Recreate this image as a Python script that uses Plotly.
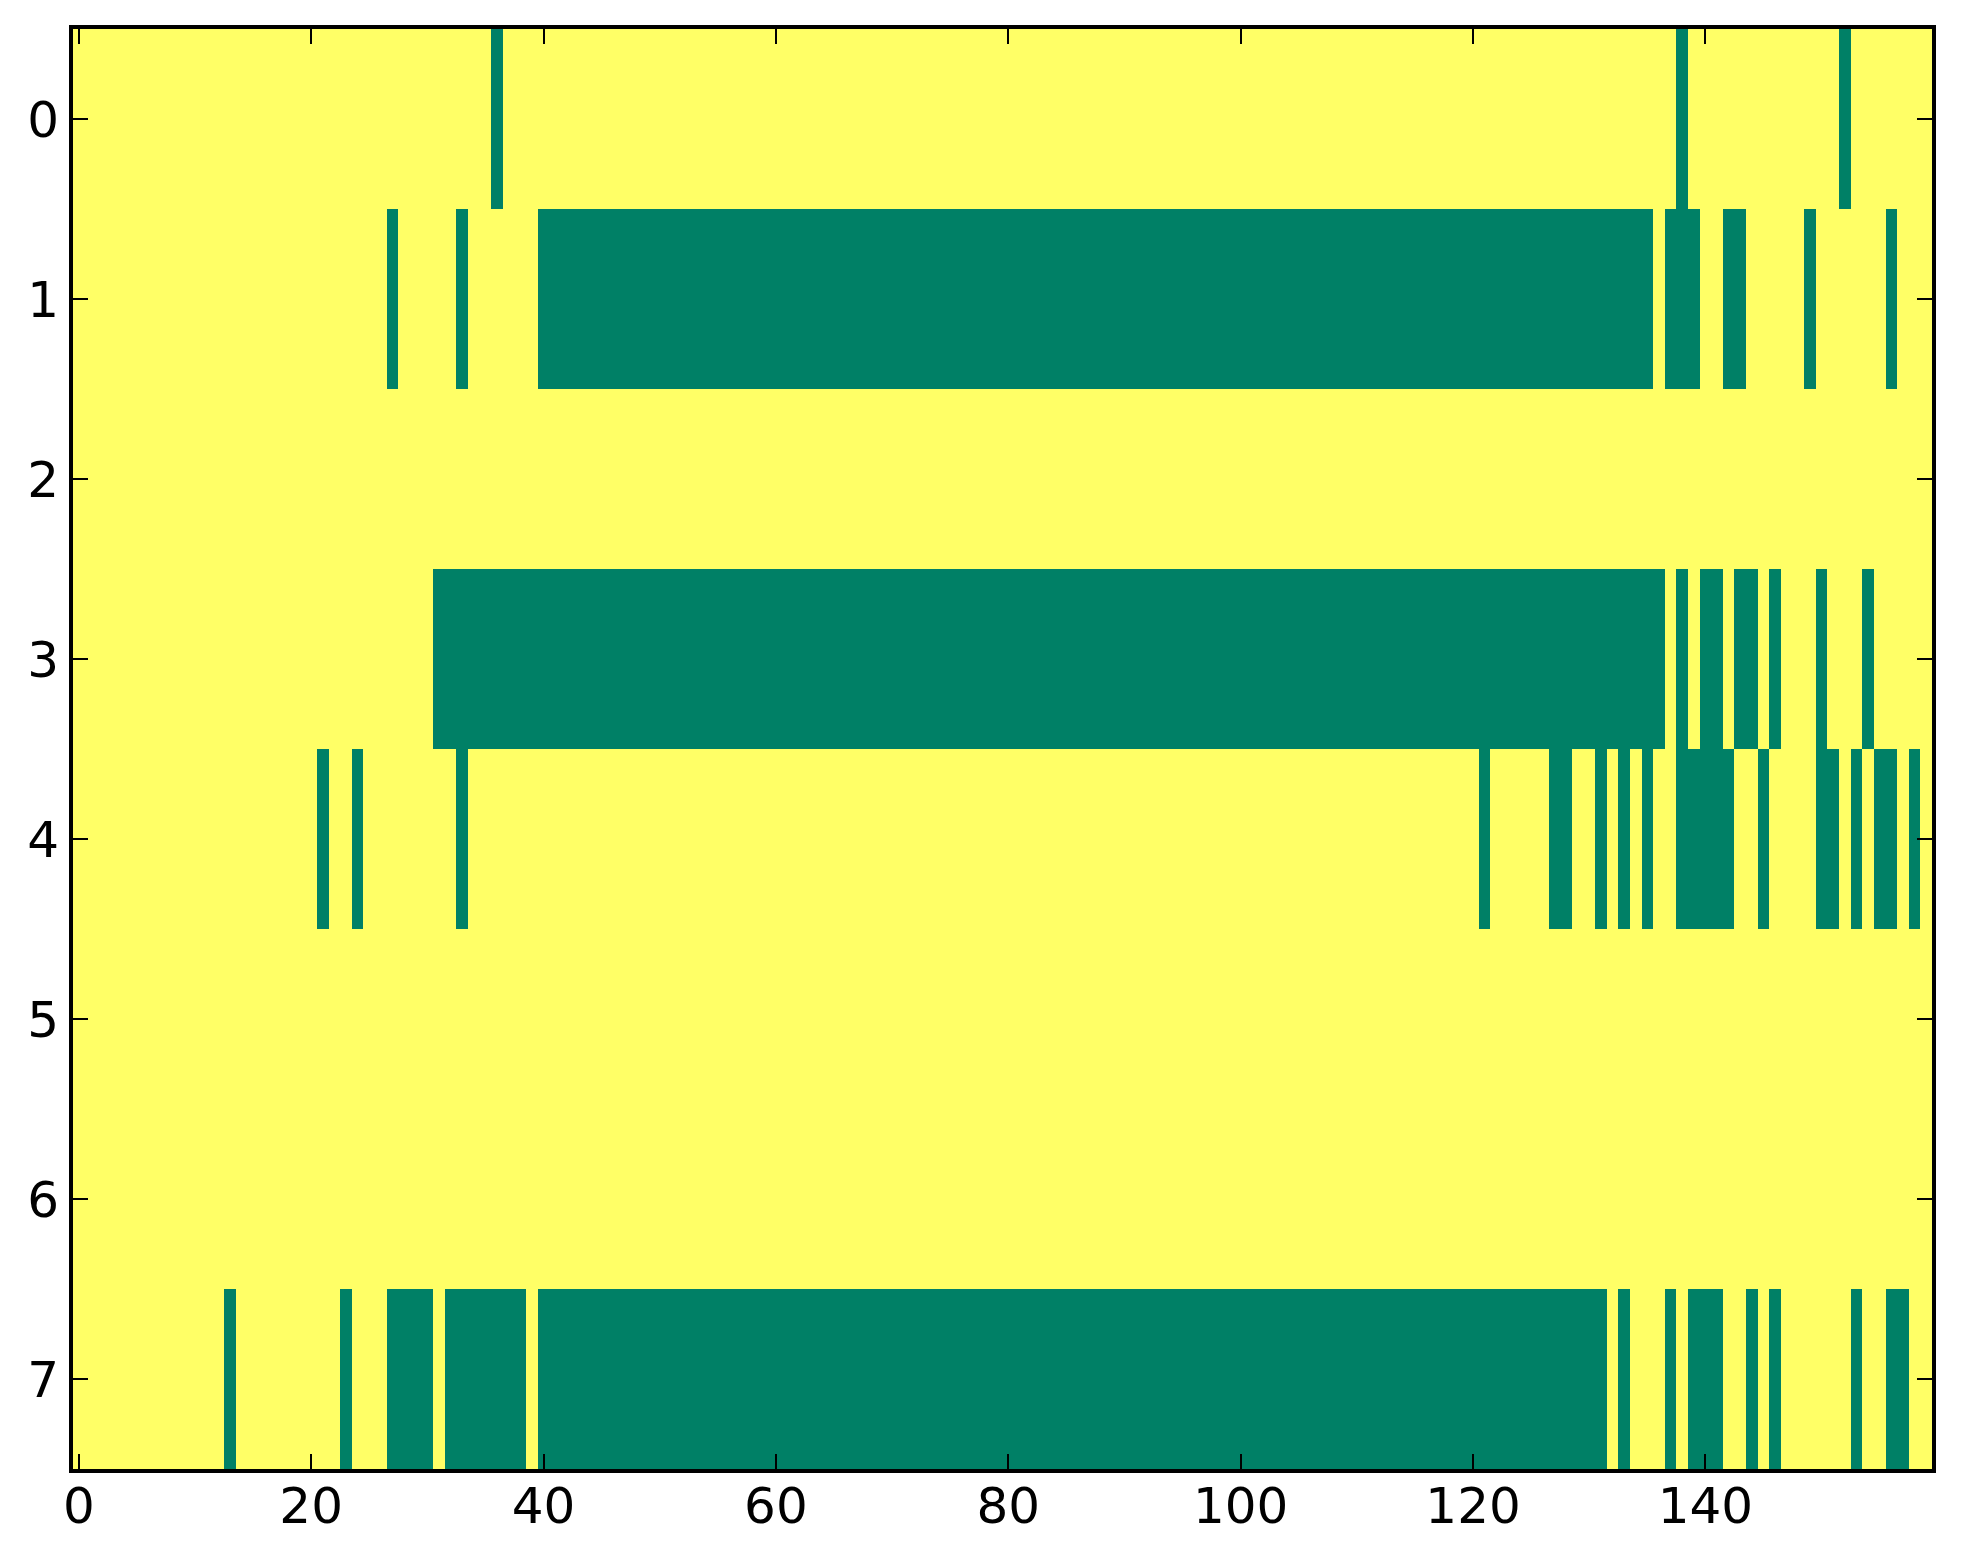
import plotly.graph_objects as go
import numpy as np

# Green (value 0) cells per row, as inclusive column runs; everything else is 1 (yellow)
n_cols = 160
row_labels = [0, 1, 2, 3, 4, 5, 6, 7]
row0_runs = [(36, 36), (138, 138), (152, 152)]
row1_runs = [(27, 27), (33, 33), (40, 135), (137, 139), (142, 143), (149, 149), (156, 156)]
row2_runs = []
row3_runs = [(31, 136), (138, 138), (140, 141), (143, 144), (146, 146), (150, 150), (154, 154)]
row4_runs = [(21, 21), (24, 24), (33, 33), (121, 121), (127, 128), (131, 131), (133, 133),
             (135, 135), (138, 142), (145, 145), (150, 151), (153, 153), (155, 156), (158, 158)]
row5_runs = []
row6_runs = []
row7_runs = [(13, 13), (23, 23), (27, 30), (32, 38), (40, 131), (133, 133), (137, 137),
             (139, 141), (144, 144), (146, 146), (153, 153), (156, 157)]

x_ticks = [0, 20, 40, 60, 80, 100, 120, 140]

all_runs = [row0_runs, row1_runs, row2_runs, row3_runs,
            row4_runs, row5_runs, row6_runs, row7_runs]

z = np.ones((len(all_runs), n_cols))
for r, runs in enumerate(all_runs):
    for a, b in runs:
        z[r, a:b + 1] = 0

fig = go.Figure()
fig.add_trace(go.Heatmap(
    z=z,
    x=np.arange(n_cols),
    y=row_labels,
    colorscale=[[0, '#008066'], [1, '#ffff66']],
    zmin=0, zmax=1,
    showscale=False,
    hoverinfo='skip',
))

axis_style = dict(
    showline=True, linecolor='black', linewidth=4, mirror='ticks',
    ticks='inside', ticklen=15, tickwidth=2, tickcolor='black',
    showgrid=False, zeroline=False,
    tickfont=dict(family='DejaVu Sans', size=50, color='black'),
)

# page body has an 8px margin, so the figure is sized to fit inside it
fig.update_layout(
    width=1947, height=1548,
    margin=dict(l=65, r=23, t=21, b=87),
    paper_bgcolor='white', plot_bgcolor='white',
    xaxis=dict(range=[-0.5, n_cols - 0.5], tickmode='array', tickvals=x_ticks,
               ticklabelstandoff=-10, **axis_style),
    yaxis=dict(range=[len(row_labels) - 0.5, -0.5], tickmode='array', tickvals=row_labels,
               ticklabelstandoff=0, **axis_style),
    showlegend=False,
)

fig.write_html('out.html')
